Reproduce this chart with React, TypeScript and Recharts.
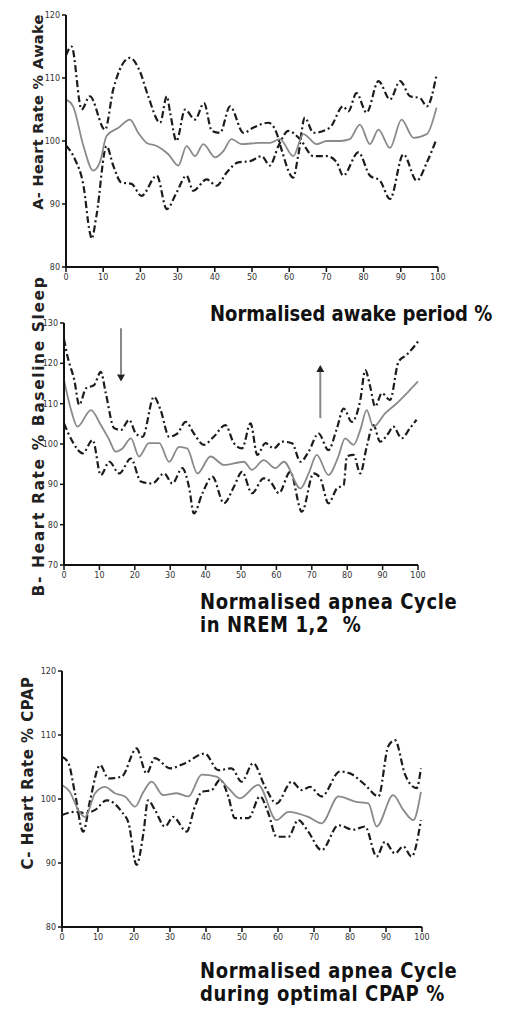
import React from "react";
import { LineChart, Line, XAxis, YAxis, ReferenceLine } from "recharts";

type Pt = [number, number];

const X_TICKS = [0, 10, 20, 30, 40, 50, 60, 70, 80, 90, 100];
const A_Y_TICKS = [80, 90, 100, 110, 120];
const B_Y_TICKS = [70, 80, 90, 100, 110, 120, 130];
const C_Y_TICKS = [80, 90, 100, 110, 120];

const A_UPPER: Pt[] = [
  [0, 113.6], [1.5, 115], [4.2, 105], [6.4, 107.1], [10.5, 101.8], [12.7, 108.2], [17.2, 113.2],
  [19.9, 111], [22.1, 107.1], [25.3, 102.9], [27.1, 107.1], [28, 104.5], [29.7, 100], [32, 105],
  [34.7, 103.4], [37.1, 106], [39.2, 101.6], [41.4, 101.3], [44.1, 105.5], [47.7, 101.3],
  [50.3, 102.1], [54.4, 102.9], [56.6, 101.3], [57.9, 98.7], [61.1, 94.2], [62.4, 97.6],
  [64.2, 103.7], [66.5, 101.3], [70.9, 102.1], [74.5, 105.5], [75.9, 104.7], [78.1, 107.6],
  [80.8, 104.5], [84, 109.5], [87.1, 106.6], [89.8, 109.5], [92.5, 107.1], [95.2, 106.8],
  [97, 105.5], [99.6, 110.5],
];
const A_MEAN: Pt[] = [
  [0, 106.6], [1.9, 105.5], [4.7, 99.2], [7.3, 95.3], [9.1, 96.6], [10.9, 100.8], [14.1, 102.1],
  [17.2, 103.4], [19.4, 101.3], [21.7, 99.7], [24.4, 99.2], [27.5, 97.9], [30.2, 96.1], [32.4, 99.2],
  [34.7, 97.6], [36.9, 99.5], [40.1, 97.4], [42.3, 98.4], [44.5, 100.3], [47.2, 99.5], [52.1, 99.7],
  [54.8, 99.7], [57.5, 100.3], [61.1, 97.6], [63.8, 101.1], [67.4, 99.5], [70.1, 100], [73.7, 100],
  [76.3, 100.3], [79, 102.6], [81.7, 99.5], [84, 101.8], [87.1, 98.9], [90.2, 103.4], [93.4, 100.5],
  [97, 101.1], [99.6, 105.3],
];
const A_LOWER: Pt[] = [
  [0, 99.3], [2.4, 97.1], [4.7, 92.9], [6.4, 85.5], [6.9, 84.5], [8.2, 88.2], [10.9, 99.2],
  [12.7, 96.1], [14.9, 93.4], [17.6, 93.2], [20.3, 91.3], [24.4, 94.5], [27.1, 89.2], [29.7, 91.8],
  [32.4, 94.5], [34.2, 92.1], [37.8, 93.9], [40.5, 92.9], [43.2, 95], [46.3, 96.6], [49.5, 96.8],
  [52.6, 97.6], [54.8, 96.1], [57.1, 99.2], [59.8, 101.6], [62.9, 100.3], [66.5, 97.6], [70.1, 97.6],
  [72.8, 96.6], [74.5, 94.5], [78.6, 98.2], [81.7, 94.5], [84.4, 93.7], [87.1, 90.8], [90.7, 97.9],
  [94.3, 93.7], [97, 96.6], [99.6, 100.3],
];

const B_UPPER: Pt[] = [
  [0, 126], [1, 121.7], [2.9, 115.9], [4.3, 109.7], [6.2, 113.8], [8.5, 114.6], [10.4, 117.9],
  [11.8, 112.6], [14.2, 103.9], [16.1, 103.5], [18.4, 106], [20.3, 102.6], [22.2, 101.8],
  [25.4, 111.7], [27.3, 108.4], [29.7, 101.8], [32, 102.6], [34.4, 105.5], [36.7, 102.6],
  [39.5, 99.8], [42.3, 101.8], [45.6, 104.7], [48, 100.2], [50.3, 98.9], [52.7, 105.1],
  [54.6, 97.3], [56.9, 100.2], [59.3, 98.9], [61.6, 100.6], [64.4, 100.2], [66.8, 95.6],
  [69.1, 98.1], [71.9, 102.6], [74.7, 98.5], [77.1, 103.9], [79, 108.8], [81.3, 105.5],
  [83.7, 110.9], [85.1, 118.3], [86.5, 114.2], [87.9, 109.3], [89.8, 112.6], [92.1, 110.9],
  [94.5, 120.4], [96.8, 122.1], [100, 125.4],
];
const B_MEAN: Pt[] = [
  [0, 115.9], [2, 108.4], [3.8, 104.3], [7.6, 108.4], [10.4, 104.7], [12.8, 101], [14.6, 98.1],
  [16.5, 98.9], [18.9, 101.4], [21.2, 96.9], [24, 100.2], [26.9, 100.2], [29.7, 95.6], [32.5, 99.3],
  [34.8, 98.9], [37.7, 92.7], [41.4, 96.9], [45.2, 94.8], [50.8, 95.6], [53.1, 93.6], [56.4, 96],
  [59.7, 94], [62.1, 95.6], [66.8, 89], [69.1, 92.7], [71.4, 97.3], [74.7, 92.3], [77.5, 96.9],
  [79.4, 101.4], [81.8, 99.8], [83.7, 103.5], [85.5, 108.4], [87.4, 104.3], [90.7, 107.6],
  [94, 110.1], [97.3, 113], [100, 115.5],
];
const B_LOWER: Pt[] = [
  [0, 105.1], [2.4, 100.6], [5.3, 97.7], [8.1, 101], [10.4, 92.3], [12.8, 95.6], [15.6, 92.7],
  [18.9, 96.4], [21.7, 90.7], [24.9, 90.2], [28.3, 92.7], [30.6, 90.2], [33.4, 94], [35.3, 89.4],
  [36.7, 82.8], [39.1, 87.8], [41.9, 91.9], [45.2, 85.3], [48, 89.4], [50.3, 93.1], [53.1, 87.8],
  [56.4, 91.5], [58.3, 90.7], [60.7, 87.8], [63.9, 93.1], [67.2, 83.2], [70.5, 92.7], [72.4, 91.5],
  [74.7, 85.3], [77.1, 89], [79, 89.8], [79.9, 96.9], [81.8, 97.3], [83.7, 92.7], [85.5, 99.3],
  [87.4, 104.7], [89.3, 100.6], [91.6, 102.6], [93, 104.3], [95.4, 101.4], [97.7, 103.9],
  [99.6, 106],
];
const B_ARROWS = [
  { x: 16.1, from: 128.7, to: 115.5 },
  { x: 72.4, from: 106.4, to: 119.6 },
];

const C_UPPER: Pt[] = [
  [0, 106.6], [1.8, 105.6], [3.6, 100.9], [5.9, 94.9], [7.8, 99.8], [10.6, 105.3], [12.9, 103.2],
  [16.6, 103.5], [20.7, 107.9], [23.5, 104], [25.8, 106.4], [30, 104.8], [34.2, 105.6], [39.7, 107.1],
  [43.4, 104.5], [47.1, 104.8], [49.9, 102.7], [53.1, 105.6], [56.4, 101.9], [59.6, 99.3],
  [63.8, 102.7], [66.6, 101.4], [68.9, 101.9], [72.1, 100.4], [77.2, 104.3], [80, 104],
  [84.2, 102.2], [87.9, 100.4], [90.6, 108.2], [92.5, 109.2], [95.3, 103.8], [98.5, 101.7],
  [99.7, 104.8],
];
const C_MEAN: Pt[] = [
  [0, 102.2], [2.2, 101.1], [4.5, 98.3], [6.4, 97.2], [9.2, 100.9], [11.9, 101.9], [14.7, 100.9],
  [17.5, 100.4], [20.3, 98.8], [22.6, 101.1], [24.9, 102.7], [28.1, 100.6], [31.9, 100.9],
  [35.1, 100.4], [38.8, 103.8], [42.9, 103.5], [46.2, 101.7], [49.4, 100.1], [54.5, 102.2],
  [59.6, 96.7], [62.9, 98], [68.4, 97.2], [72.1, 96.2], [76.8, 100.4], [81.4, 99.6], [85.1, 99.3],
  [87.4, 95.7], [92, 100.6], [94.8, 98.3], [97.6, 96.7], [99.7, 101.1],
];
const C_LOWER: Pt[] = [
  [0, 97.5], [3.6, 98], [6.4, 97.8], [9.2, 98.3], [12.4, 99.8], [16.6, 98], [18.5, 96.2],
  [20.7, 89.7], [22.6, 94.6], [23.9, 99.8], [25.8, 98.3], [28.6, 95.7], [30.9, 97.2], [34.6, 94.9],
  [36.9, 98.8], [38.8, 101.1], [41.6, 101.4], [43.9, 103], [46.2, 100.4], [48, 97], [51.8, 97],
  [55, 100.4], [57.3, 97.8], [59.6, 94.1], [62.9, 94.1], [65.6, 96.7], [68.4, 94.9], [72.1, 92],
  [76.8, 95.9], [80.9, 95.2], [84.2, 95.7], [87.4, 91], [89.7, 93.3], [92.5, 91.5], [94.8, 92.6],
  [97.1, 91], [99.7, 96.7],
];

const toData = (pts: Pt[]) => pts.map(([x, y]) => ({ x, y }));

const ArrowShape = (props: any) => {
  const { x1, y1, x2, y2 } = props;
  if ([x1, y1, x2, y2].some((v) => typeof v !== "number" || isNaN(v))) return null;
  const dir = y2 > y1 ? 1 : -1;
  const head = 7;
  return (
    <g>
      <line x1={x1} y1={y1} x2={x2} y2={y2 - dir * head} stroke="#888" strokeWidth={2} />
      <polygon
        points={`${x2 - 4},${y2 - dir * head} ${x2 + 4},${y2 - dir * head} ${x2},${y2}`}
        fill="#222"
      />
    </g>
  );
};

type PanelProps = {
  plotTop: number;
  plotLeft: number;
  plotRight: number;
  plotHeight: number;
  yDomain: [number, number];
  yTicks: number[];
  upper: Pt[];
  mean: Pt[];
  lower: Pt[];
  arrows?: { x: number; from: number; to: number }[];
};

const Panel = ({ plotTop, plotLeft, plotRight, plotHeight, yDomain, yTicks, upper, mean, lower, arrows }: PanelProps) => {
  const topPad = 10;
  const xAxisH = 28;
  const yAxisW = 30;
  const tickStyle = { fontSize: 8, fill: "#333", fontFamily: "DejaVu Sans" };
  const bandStyle = { stroke: "#1c1c1c", strokeWidth: 2.2, strokeDasharray: "7 3 2 3" };
  return (
    <div style={{ position: "absolute", left: 0, top: plotTop - topPad }}>
      <LineChart
        width={516}
        height={topPad + plotHeight + xAxisH}
        margin={{ top: topPad, right: 516 - plotRight, bottom: 0, left: plotLeft - yAxisW }}
      >
        <XAxis
          type="number"
          dataKey="x"
          domain={[0, 100]}
          ticks={X_TICKS}
          interval={0}
          height={xAxisH}
          axisLine={{ stroke: "#111", strokeWidth: 2 }}
          tickLine={{ stroke: "#111", strokeWidth: 1.5 }}
          tickSize={5}
          tick={tickStyle}
        />
        <YAxis
          type="number"
          domain={yDomain}
          ticks={yTicks}
          interval={0}
          width={yAxisW}
          axisLine={{ stroke: "#111", strokeWidth: 2 }}
          tickLine={{ stroke: "#111", strokeWidth: 1.5 }}
          tickSize={4}
          tick={tickStyle}
        />
        <Line data={toData(upper)} dataKey="y" type="monotone" dot={false} isAnimationActive={false} {...bandStyle} />
        <Line data={toData(lower)} dataKey="y" type="monotone" dot={false} isAnimationActive={false} {...bandStyle} />
        <Line data={toData(mean)} dataKey="y" type="monotone" dot={false} isAnimationActive={false} stroke="#8a8a8a" strokeWidth={1.8} />
        {(arrows || []).map((a, i) => (
          <ReferenceLine
            key={i}
            segment={[{ x: a.x, y: a.from }, { x: a.x, y: a.to }]}
            shape={ArrowShape}
          />
        ))}
      </LineChart>
    </div>
  );
};

const titleStyle = (spacing: number): React.CSSProperties => ({
  position: "absolute",
  fontFamily: "DejaVu Sans",
  fontWeight: "bold",
  fontSize: 18,
  color: "#111",
  lineHeight: "20px",
  whiteSpace: "nowrap",
  letterSpacing: spacing,
  transform: "scaleY(1.15)",
  transformOrigin: "left top",
});

const YTitle = ({ text, cx, cy, size, spacing }: { text: string; cx: number; cy: number; size: number; spacing: number }) => (
  <div
    style={{
      position: "absolute",
      left: cx,
      top: cy,
      transform: "translate(-50%, -50%) rotate(-90deg)",
      fontFamily: "DejaVu Sans",
      fontWeight: "bold",
      fontSize: size,
      letterSpacing: spacing,
      color: "#222",
      whiteSpace: "nowrap",
    }}
  >
    {text}
  </div>
);

export default function App() {
  return (
    <div style={{ position: "absolute", left: 0, top: 0, width: 516, height: 1012, background: "#fff", overflow: "hidden" }}>
      <Panel plotTop={15} plotLeft={66} plotRight={438} plotHeight={252} yDomain={[80, 120]} yTicks={A_Y_TICKS} upper={A_UPPER} mean={A_MEAN} lower={A_LOWER} />
      <Panel plotTop={323} plotLeft={64} plotRight={418} plotHeight={242} yDomain={[70, 130]} yTicks={B_Y_TICKS} upper={B_UPPER} mean={B_MEAN} lower={B_LOWER} arrows={B_ARROWS} />
      <Panel plotTop={671} plotLeft={62} plotRight={422} plotHeight={256} yDomain={[80, 120]} yTicks={C_Y_TICKS} upper={C_UPPER} mean={C_MEAN} lower={C_LOWER} />

      <YTitle text="A- Heart Rate % Awake" cx={38} cy={112} size={14.5} spacing={0.3} />
      <YTitle text="B- Heart Rate % Baseline Sleep" cx={39} cy={436} size={15.5} spacing={1.6} />
      <YTitle text="C- Heart Rate % CPAP" cx={28} cy={773} size={15} spacing={0.5} />

      <div style={{ ...titleStyle(0), left: 210, top: 303 }}>Normalised awake period %</div>
      <div style={{ ...titleStyle(0.6), left: 200, top: 591 }}>
        Normalised apnea Cycle
        <br />
        in NREM 1,2 &nbsp;%
      </div>
      <div style={{ ...titleStyle(0.6), left: 200, top: 960 }}>
        Normalised apnea Cycle
        <br />
        during optimal CPAP %
      </div>
    </div>
  );
}
